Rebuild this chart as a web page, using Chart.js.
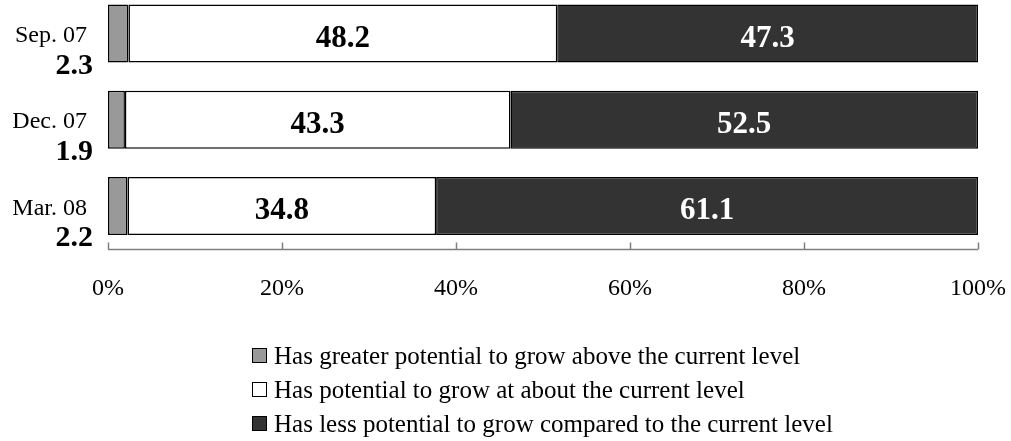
<!DOCTYPE html>
<html lang="en">
  <head>
    <meta charset="UTF-8" />
    <title>Growth potential</title>
    <script src="https://cdn.jsdelivr.net/npm/chart.js"></script>
    <style>
      html, body { margin: 0; padding: 0; background: #fff; }
      #wrap { width: 1011px; height: 441px; position: relative; }
    </style>
  </head>
  <body>
    <div id="wrap"><canvas id="growth"></canvas></div>
    <script>
      const periods = ["Sep. 07", "Dec. 07", "Mar. 08"];
      const greaterPotential = [2.3, 1.9, 2.2];
      const aboutCurrent = [48.2, 43.3, 34.8];
      const lessPotential = [47.3, 52.5, 61.1];
      const seriesNames = [
        "Has greater potential to grow above the current level",
        "Has potential to grow at about the current level",
        "Has less potential to grow compared to the current level",
      ];
      const xTicks = [0, 20, 40, 60, 80, 100];

      const SERIF = "'Liberation Serif', 'Times New Roman', serif";
      const raw = [greaterPotential, aboutCurrent, lessPotential];
      // bars are drawn as share of the answers shown, so each row fills 100%
      const totals = periods.map((p, i) => raw.reduce((s, arr) => s + arr[i], 0));
      const toPct = (arr) => arr.map((v, i) => (v / totals[i]) * 100);

      // labels, legend and the upward axis ticks
      const decorations = {
        id: "decorations",
        afterDatasetsDraw(chart) {
          const ctx = chart.ctx;
          const x = chart.scales.x;
          const y = chart.scales.y;
          const halfStep = (y.getPixelForValue(1) - y.getPixelForValue(0)) / 2;
          ctx.save();
          ctx.textBaseline = "alphabetic";

          // values inside the bars
          ctx.font = "bold 31px " + SERIF;
          ctx.textAlign = "center";
          [1, 2].forEach((di) => {
            const meta = chart.getDatasetMeta(di);
            meta.data.forEach((bar, i) => {
              ctx.fillStyle = di === 2 ? "#ffffff" : "#000000";
              ctx.fillText(raw[di][i].toFixed(1), (bar.base + bar.x) / 2, bar.y + 13);
            });
          });

          // period names with the small share underneath
          ctx.textAlign = "right";
          ctx.fillStyle = "#000";
          periods.forEach((p, i) => {
            const cy = y.getPixelForValue(i);
            ctx.font = "24px " + SERIF;
            ctx.fillText(p, 87, cy + 8.5);
            ctx.font = "bold 30px " + SERIF;
            ctx.fillText(greaterPotential[i].toFixed(1), 93, cy + 40);
          });

          // x axis line with ticks pointing up
          const base = Math.round(y.getPixelForValue(periods.length - 1) + halfStep) + 0.5;
          ctx.strokeStyle = "#808080";
          ctx.lineWidth = 1.5;
          ctx.beginPath();
          ctx.moveTo(x.getPixelForValue(0), base);
          ctx.lineTo(x.getPixelForValue(100), base);
          xTicks.forEach((t) => {
            const px = Math.round(x.getPixelForValue(t)) + 0.5;
            ctx.moveTo(px, base);
            ctx.lineTo(px, base - 7);
          });
          ctx.stroke();

          // legend, one entry per line
          ctx.textAlign = "left";
          ctx.font = "25px " + SERIF;
          chart.data.datasets.forEach((ds, i) => {
            const ly = 356 + i * 34;
            ctx.fillStyle = ds.backgroundColor;
            ctx.fillRect(252.5, ly - 7.5, 14, 14);
            ctx.strokeStyle = "#000";
            ctx.lineWidth = 1;
            ctx.strokeRect(252.5, ly - 7.5, 14, 14);
            ctx.fillStyle = "#000";
            ctx.fillText(ds.label, 274, ly + 8.3);
          });
          ctx.restore();
        },
      };

      const colors = ["#999999", "#ffffff", "#333333"];
      const data = {
        labels: periods,
        datasets: raw.map((arr, i) => ({
          label: seriesNames[i],
          data: toPct(arr),
          backgroundColor: colors[i],
          borderColor: "#000000",
          borderWidth: 1.5,
          borderSkipped: false,
          categoryPercentage: 1,
          barPercentage: 0.675,
          clip: false,
        })),
      };

      const config = {
        type: "bar",
        data: data,
        options: {
          indexAxis: "y",
          responsive: true,
          maintainAspectRatio: false,
          animation: { duration: 0 },
          layout: { padding: { left: 108, right: 0, top: 33.5, bottom: 0 } },
          plugins: { legend: { display: false }, tooltip: { enabled: false } },
          scales: {
            x: {
              stacked: true,
              min: 0,
              max: 100,
              afterBuildTicks: (scale) => {
                scale.ticks = xTicks.map((v) => ({ value: v }));
              },
              // keep the big label gap from eating into the plot width
              afterFit: (scale) => {
                scale.paddingLeft = 0;
                scale.paddingRight = 33;
                scale.height = 235;
              },
              grid: { display: false, drawTicks: false },
              border: { display: false },
              ticks: {
                padding: 68,
                maxRotation: 0,
                color: "#000",
                font: { family: SERIF, size: 24 },
                callback: (v) => v + "%",
              },
            },
            y: {
              stacked: true,
              display: false,
              offset: false,
            },
          },
        },
        plugins: [decorations],
      };

      new Chart(document.getElementById("growth"), config);
    </script>
  </body>
</html>
